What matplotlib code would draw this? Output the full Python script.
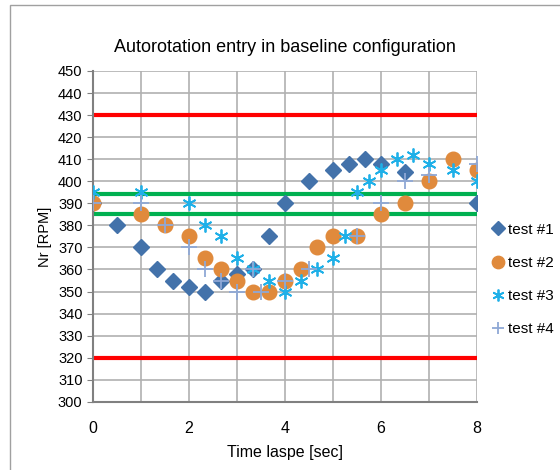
import matplotlib.pyplot as plt
from matplotlib.patches import Rectangle

plt.rcParams['font.family'] = ['Liberation Sans', 'DejaVu Sans']

# data
t1 = [0, 0.5, 1.0, 1.33, 1.67, 2.0, 2.33, 2.67, 3.0, 3.33, 3.67, 4.0, 4.5, 5.0, 5.33, 5.67, 6.0, 6.5, 8.0]
rpm1 = [390, 380, 370, 360, 355, 352, 350, 355, 358, 360, 375, 390, 400, 405, 408, 410, 408, 404, 390]

t2 = [0, 1.0, 1.5, 2.0, 2.33, 2.67, 3.0, 3.33, 3.67, 4.0, 4.33, 4.67, 5.0, 5.5, 6.0, 6.5, 7.0, 7.5, 8.0]
rpm2 = [390, 385, 380, 375, 365, 360, 355, 350, 350, 355, 360, 370, 375, 375, 385, 390, 400, 410, 405]

t3 = [0, 1.0, 2.0, 2.33, 2.67, 3.0, 3.33, 3.67, 4.0, 4.33, 4.67, 5.0, 5.25, 5.5, 5.75, 6.0, 6.33, 6.67, 7.0, 7.5, 8.0]
rpm3 = [395, 395, 390, 380, 375, 365, 360, 355, 350, 355, 360, 365, 375, 395, 400, 405, 410, 412, 408, 405, 400]

t4 = [0, 1.0, 1.5, 2.0, 2.33, 2.67, 3.0, 3.33, 3.5, 4.0, 4.5, 5.5, 6.0, 6.5, 7.0, 8.0]
rpm4 = [390, 390, 380, 370, 360, 355, 350, 360, 350, 355, 360, 375, 390, 400, 403, 408]

limits_red = [430, 320]
limits_green = [394, 385]

fig = plt.figure(figsize=(5.6, 4.7), dpi=100)
ax = fig.add_axes([0.166, 0.145, 0.686, 0.704])

# outer chart border (only left/top visible in the reference)
fig.patches.append(Rectangle((0.018, -0.05), 1.0, 1.04, transform=fig.transFigure,
                             fill=False, edgecolor='#a0a0a0', lw=1.0))

for v in limits_red:
    ax.axhline(v, color='#ff0000', lw=3, zorder=2)
for v in limits_green:
    ax.axhline(v, color='#00b050', lw=3, zorder=2)

ax.plot(t1, rpm1, 'D', color='#4372aa', ms=8, ls='none', label='test #1', zorder=3)
ax.plot(t2, rpm2, 'o', color='#e08a3c', ms=10.5, ls='none', label='test #2', zorder=4)
ax.plot(t3, rpm3, marker=(6, 2, 0), color='#1fb0e8', ms=10, mew=1.3, ls='none', label='test #3', zorder=5)
ax.plot(t4, rpm4, '+', color='#8fa8d6', ms=11, mew=1.3, ls='none', label='test #4', zorder=6)

ax.set_xlim(0, 8)
ax.set_ylim(300, 450)
ax.set_xticks(range(0, 9, 2))
ax.set_xticks(range(1, 9, 2), minor=True)
ax.set_yticks(range(300, 451, 10))
ax.grid(True, which='both', color='#b0b0b0', lw=1.2, zorder=0)
ax.set_axisbelow(True)
for s in ['top', 'right']:
    ax.spines[s].set_visible(False)
for s in ['left', 'bottom']:
    ax.spines[s].set_color('#808080')
    ax.spines[s].set_linewidth(1.5)
ax.tick_params(axis='y', colors='#808080', labelcolor='black', labelsize=10.5, length=4)
ax.tick_params(axis='x', which='both', length=0, pad=14, labelsize=11.5)

ax.set_title('Autorotation entry in baseline configuration', fontsize=13, pad=14)
ax.set_xlabel('Time laspe [sec]', fontsize=11.5, labelpad=6)
ax.set_ylabel('Nr [RPM]', fontsize=10.5, labelpad=4)

ax.legend(loc='center left', bbox_to_anchor=(1.0, 0.37), frameon=False, fontsize=11,
          handletextpad=0.2, labelspacing=1.25, handlelength=0.9, markerscale=0.85,
          borderaxespad=0.5)

fig.savefig('out.png', dpi=100)
